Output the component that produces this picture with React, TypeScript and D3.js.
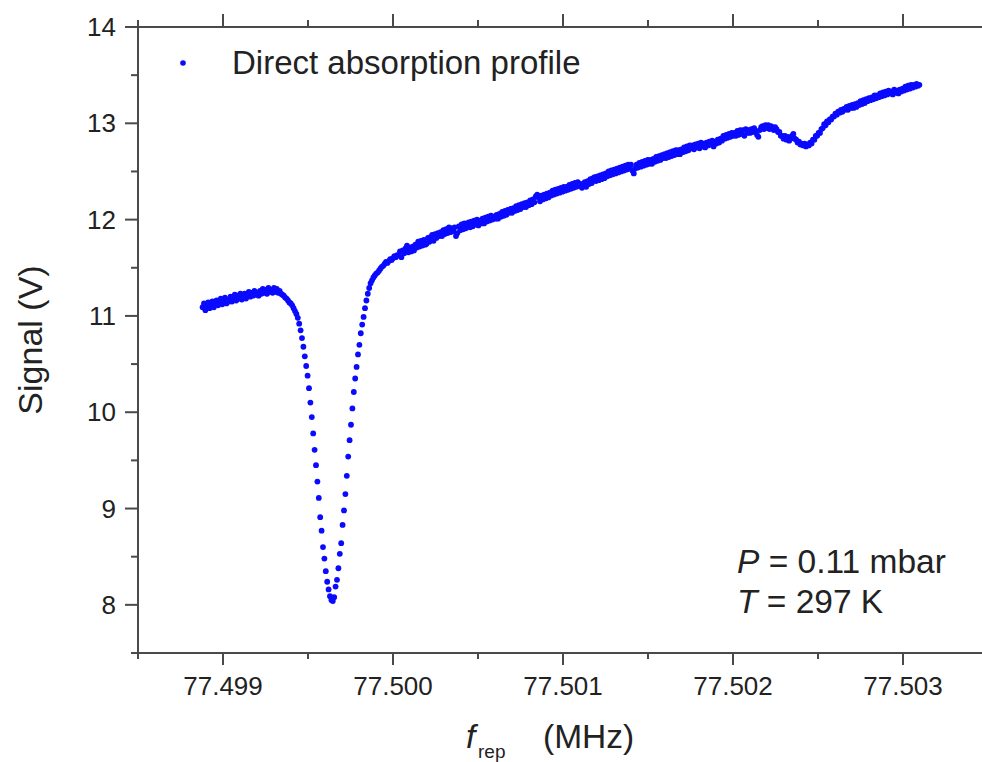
import React from 'react';
import * as d3 from 'd3';

// Frequency sweep: uniform steps starting at fStart
const fStart = 77.49888;
const fStep = 0.000008235;

// Signal (V), one value per sweep step
const signal: number[] = [
  11.09, 11.13, 11.06, 11.11, 11.14, 11.08, 11.12, 11.15, 11.09, 11.13,
  11.16, 11.11, 11.15, 11.18, 11.12, 11.16, 11.19, 11.13, 11.17, 11.15,
  11.20, 11.15, 11.19, 11.22, 11.16, 11.21, 11.18, 11.23, 11.17, 11.20,
  11.23, 11.18, 11.22, 11.25, 11.20, 11.24, 11.21, 11.26, 11.22, 11.24,
  11.21, 11.26, 11.23, 11.28, 11.24, 11.27, 11.23, 11.29, 11.25, 11.27,
  11.24, 11.29, 11.25, 11.28, 11.24, 11.26,
  11.23, 11.22, 11.21, 11.19, 11.18, 11.16, 11.14, 11.13, 11.11, 11.08, 11.05, 11.02, 10.98, 10.92,
  10.85, 10.77, 10.68, 10.58, 10.48, 10.38, 10.25, 10.10, 9.95, 9.78,
  9.61, 9.45, 9.28, 9.11, 8.91, 8.77, 8.60, 8.48, 8.35, 8.24,
  8.16, 8.09, 8.05, 8.04, 8.08, 8.19, 8.26, 8.38, 8.53, 8.64,
  8.83, 8.98, 9.15, 9.34, 9.54, 9.71, 9.87, 10.04, 10.21, 10.35,
  10.47, 10.60, 10.70, 10.82, 10.91, 10.99, 11.08, 11.16, 11.23, 11.29,
  11.34, 11.37, 11.40, 11.42, 11.44, 11.45, 11.47, 11.49, 11.51, 11.52,
  11.54, 11.56, 11.55, 11.57, 11.59, 11.58, 11.60, 11.62, 11.61, 11.63,
  11.63, 11.67, 11.61, 11.68, 11.65, 11.70, 11.73, 11.66, 11.71, 11.67,
  11.72, 11.68, 11.74, 11.71, 11.77, 11.72, 11.78, 11.73, 11.79, 11.74,
  11.75, 11.81, 11.77, 11.82, 11.84, 11.78, 11.85, 11.81, 11.86, 11.83,
  11.87, 11.83, 11.89, 11.85, 11.90, 11.86, 11.92, 11.87, 11.91, 11.88,
  11.92, 11.83, 11.86, 11.93, 11.89, 11.95, 11.90, 11.96, 11.91, 11.94,
  11.97, 11.92, 11.98, 11.93, 11.99, 11.95, 12.00, 11.94, 11.99, 11.96,
  12.01, 11.96, 12.02, 11.98, 12.03, 11.99, 12.04, 12.00, 12.03, 12.01,
  12.05, 12.01, 12.06, 12.03, 12.08, 12.04, 12.09, 12.05, 12.10, 12.07,
  12.11, 12.07, 12.12, 12.09, 12.14, 12.10, 12.15, 12.11, 12.16, 12.13,
  12.17, 12.13, 12.18, 12.15, 12.20, 12.16, 12.21, 12.18, 12.24, 12.26,
  12.23, 12.19, 12.25, 12.21, 12.26, 12.22, 12.27, 12.23, 12.28, 12.25,
  12.30, 12.26, 12.31, 12.27, 12.32, 12.28, 12.33, 12.29, 12.34, 12.30,
  12.34, 12.31, 12.36, 12.32, 12.37, 12.33, 12.38, 12.34, 12.39, 12.35,
  12.37, 12.33, 12.35, 12.39, 12.34, 12.40, 12.37, 12.42, 12.38, 12.43,
  12.44, 12.40, 12.45, 12.41, 12.46, 12.42, 12.47, 12.43, 12.48, 12.45,
  12.50, 12.46, 12.51, 12.47, 12.52, 12.48, 12.53, 12.49, 12.54, 12.50,
  12.55, 12.51, 12.56, 12.52, 12.57, 12.53, 12.57, 12.51, 12.48, 12.53,
  12.57, 12.54, 12.59, 12.55, 12.60, 12.56, 12.61, 12.57, 12.62, 12.58,
  12.62, 12.58, 12.63, 12.60, 12.65, 12.61, 12.66, 12.62, 12.67, 12.64,
  12.68, 12.64, 12.69, 12.65, 12.70, 12.66, 12.71, 12.67, 12.72, 12.68,
  12.72, 12.68, 12.73, 12.70, 12.75, 12.71, 12.76, 12.72, 12.77, 12.74,
  12.77, 12.73, 12.78, 12.75, 12.79, 12.74, 12.80, 12.76, 12.79, 12.75,
  12.80, 12.77, 12.81, 12.78, 12.82, 12.76, 12.81, 12.79, 12.83, 12.80,
  12.84, 12.82, 12.87, 12.84, 12.88, 12.85, 12.89, 12.86, 12.90, 12.87,
  12.90, 12.87, 12.92, 12.88, 12.93, 12.89, 12.93, 12.87, 12.94, 12.90,
  12.93, 12.90, 12.94, 12.91, 12.95, 12.92, 12.88, 12.86, 12.93, 12.96,
  12.97, 12.94, 12.98, 12.95, 12.98, 12.94, 12.97, 12.96, 12.93, 12.96,
  12.94, 12.91, 12.91, 12.87, 12.87, 12.84, 12.87, 12.83, 12.86, 12.82,
  12.84, 12.87, 12.89, 12.84, 12.83, 12.80, 12.81, 12.78, 12.79, 12.77,
  12.79, 12.76, 12.78, 12.77, 12.80, 12.79, 12.83, 12.83, 12.87, 12.87,
  12.90, 12.90, 12.94, 12.95, 12.99, 12.98, 13.02, 13.01, 13.04, 13.04,
  13.07, 13.07, 13.10, 13.09, 13.12, 13.11, 13.14, 13.12, 13.15, 13.14,
  13.17, 13.14, 13.18, 13.16, 13.19, 13.16, 13.20, 13.17, 13.21, 13.19,
  13.23, 13.20, 13.24, 13.21, 13.25, 13.23, 13.26, 13.24, 13.27, 13.25,
  13.29, 13.26, 13.29, 13.27, 13.31, 13.28, 13.32, 13.29, 13.33, 13.30,
  13.34, 13.31, 13.33, 13.30, 13.35, 13.32, 13.34, 13.31, 13.35, 13.33,
  13.36, 13.34, 13.38, 13.35, 13.39, 13.36, 13.40, 13.37, 13.40, 13.38,
  13.41, 13.39, 13.40,
];

const xMajorTicks = [77.499, 77.5, 77.501, 77.502, 77.503];
const xMinorTicks = [77.4985, 77.4995, 77.5005, 77.5015, 77.5025, 77.5035];
const yMajorTicks = [8, 9, 10, 11, 12, 13, 14];
const yMinorTicks = [7.5, 8.5, 9.5, 10.5, 11.5, 12.5, 13.5];

const legendLabel = 'Direct absorption profile';
const annotationLines = [
  { sym: 'P', rest: ' = 0.11 mbar' },
  { sym: 'T', rest: ' = 297 K' },
];

const FONT = 'Liberation Sans, Arial, Helvetica, sans-serif';
const AXIS = '#4a4a4a';
const TEXT = '#222';
const BLUE = '#0a0aff';

export default function App() {
  const W = 982;
  const H = 762;
  const left = 138;
  const top = 27;
  const bottom = 653;
  const right = 988;

  const x = d3.scaleLinear().domain([77.4985, 77.5035]).range([left, right]);
  const y = d3.scaleLinear().domain([7.5, 14]).range([bottom, top]);
  const fmt = d3.format('.3f');

  const points = signal.map((v, i) => ({ f: fStart + i * fStep, v }));

  const major = 13;
  const minor = 7;

  return (
    <svg
      width={W}
      height={H}
      viewBox={`0 0 ${W} ${H}`}
      style={{ position: 'absolute', left: 0, top: 0, background: '#fff', overflow: 'hidden' }}
      fontFamily={FONT}
    >
      <rect x={0} y={0} width={W} height={H} fill="#fff" />

      {/* data */}
      <g fill={BLUE}>
        {points.map((p, i) => (
          <circle key={i} cx={x(p.f)} cy={y(p.v)} r={2.9} />
        ))}
      </g>

      {/* axes */}
      <g stroke={AXIS} strokeWidth={2} fill="none">
        <line x1={left} y1={top} x2={left} y2={bottom} />
        <line x1={left} y1={top} x2={W + 10} y2={top} />
        <line x1={left} y1={bottom} x2={W + 10} y2={bottom} />
        {yMajorTicks.map((t) => (
          <line key={'ym' + t} x1={left - major} x2={left} y1={y(t)} y2={y(t)} />
        ))}
        {yMinorTicks.map((t) => (
          <line key={'yn' + t} x1={left - minor} x2={left} y1={y(t)} y2={y(t)} />
        ))}
        {xMajorTicks.map((t) => (
          <g key={'xm' + t}>
            <line x1={x(t)} x2={x(t)} y1={bottom} y2={bottom + major - 1} />
            <line x1={x(t)} x2={x(t)} y1={top} y2={top - major} />
          </g>
        ))}
        {xMinorTicks.map((t) => (
          <g key={'xn' + t}>
            <line x1={x(t)} x2={x(t)} y1={bottom} y2={bottom + minor - 1} />
            <line x1={x(t)} x2={x(t)} y1={top} y2={top - minor} />
          </g>
        ))}
      </g>

      {/* tick labels */}
      <g fill={TEXT} fontSize={26}>
        {yMajorTicks.map((t) => (
          <text key={'yl' + t} x={left - 22} y={y(t) + 9} textAnchor="end">
            {t}
          </text>
        ))}
        {xMajorTicks.map((t) => (
          <text key={'xl' + t} x={x(t)} y={bottom + 42} textAnchor="middle">
            {fmt(t)}
          </text>
        ))}
      </g>

      {/* axis titles */}
      <text
        transform={`translate(42, 340) rotate(-90)`}
        textAnchor="middle"
        fontSize={34}
        fill={TEXT}
      >
        Signal (V)
      </text>
      <g fill={TEXT}>
        <text x={466} y={748} fontSize={33.5} fontStyle="italic">f</text>
        <text x={478} y={758} fontSize={19}>rep</text>
        <text x={543} y={748} fontSize={33.5}>(MHz)</text>
      </g>

      {/* legend */}
      <circle cx={183} cy={63} r={2.8} fill={BLUE} />
      <text x={232} y={74} fontSize={33} fill={TEXT}>
        {legendLabel}
      </text>

      {/* annotation */}
      <g fontSize={33.5} fill={TEXT}>
        {annotationLines.map((a, i) => (
          <text key={a.sym} x={737} y={573 + i * 40}>
            <tspan fontStyle="italic">{a.sym}</tspan>
            <tspan>{a.rest}</tspan>
          </text>
        ))}
      </g>
    </svg>
  );
}
